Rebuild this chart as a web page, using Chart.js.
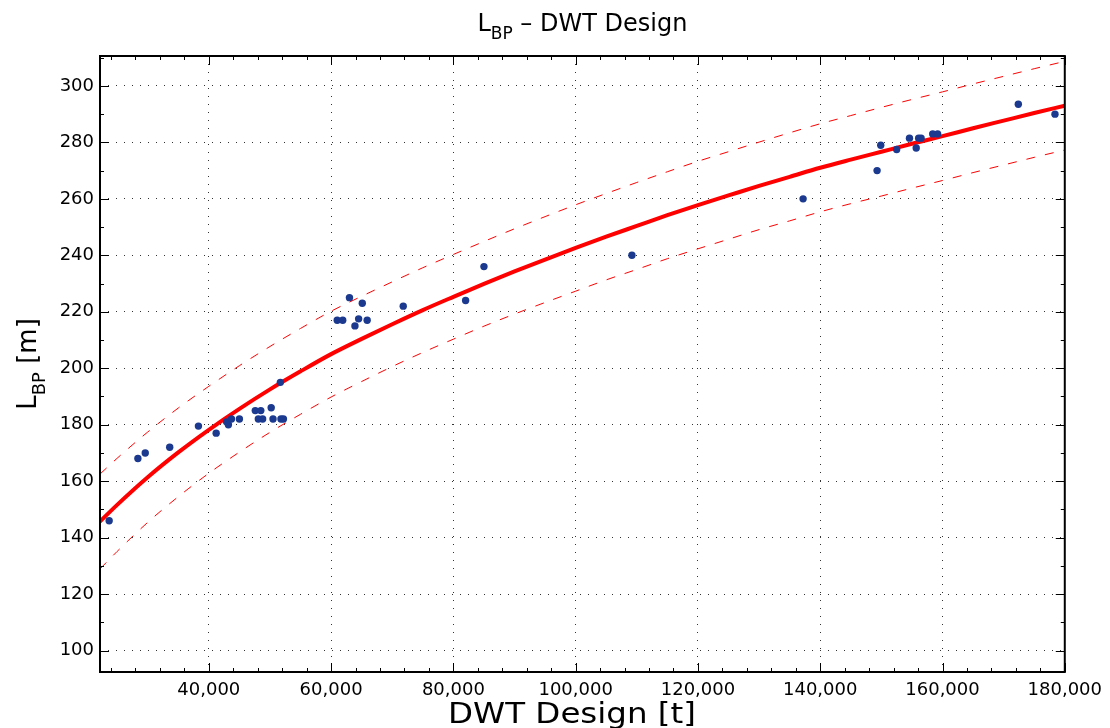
<!DOCTYPE html>
<html><head><meta charset="utf-8">
<script src="https://cdn.jsdelivr.net/npm/chart.js@4.4.1/dist/chart.umd.min.js"></script>
<style>html,body{margin:0;padding:0;background:#fff;}#wrap{width:1110px;height:728px;position:relative;}</style>
</head><body><div id="wrap"><canvas id="c" width="1110" height="728"></canvas></div>
<script>
// ---- data ----
const fitDWT = [22200,25000,30000,35000,40000,45000,50000,55000,60000,65000,70000,75000,80000,85000,90000,95000,100000,105000,110000,115000,120000,125000,130000,135000,140000,145000,150000,155000,160000,165000,170000,175000,180000];
const fitLBP = [145.7,151.6,161.4,170.2,178.2,185.6,192.5,198.9,205.0,210.4,215.6,220.6,225.3,229.9,234.3,238.5,242.6,246.6,250.4,254.2,257.8,261.2,264.6,267.8,271.0,273.9,276.7,279.5,282.2,285.0,287.7,290.4,293.0];
const upperLBP = [162.5,168.1,177.4,185.9,193.6,200.9,207.7,214.1,220.2,225.5,230.6,235.6,240.3,244.9,249.4,253.7,257.9,261.9,265.8,269.6,273.3,276.7,280.1,283.4,286.6,289.5,292.4,295.2,297.9,300.7,303.4,306.1,308.7];
const lowerLBP = [128.9,135.1,145.4,154.5,162.8,170.3,177.3,183.7,189.8,195.3,200.6,205.6,210.3,214.9,219.2,223.3,227.3,231.3,235.0,238.8,242.3,245.7,249.1,252.2,255.4,258.3,261.0,263.8,266.5,269.3,272.0,274.7,277.3];
const shipDWT = [23700,28400,29600,33600,38300,41200,42900,43200,43700,45000,47600,48500,48100,48800,50200,50500,51800,52200,51700,61000,61900,63000,63900,64500,65100,65900,71800,82000,85000,109200,137200,149300,149900,152500,154600,155700,156100,156500,158400,159200,172400,178400];
const shipLBP = [146,168,170,172,179.5,177,181,180,182,182,185,185,182,182,186,182,182,182,195,217,217,225,215,217.5,223,217,222,224,236,240,260,270,279,277.5,281.5,278,281.5,281.5,283,283,293.5,290];
const xTickValues = [40000,60000,80000,100000,120000,140000,160000,180000];
const yTickValues = [100,120,140,160,180,200,220,240,260,280,300];
const xRange = [22200, 180000];
const yRange = [92.4, 310.6];
const xMinorStep = 4000, yMinorStep = 10;

const pts = (xs, ys) => xs.map((x, i) => ({x: x, y: ys[i]}));
const FONT = '"DejaVu Sans", "Liberation Sans", Arial, sans-serif';

function drawParts(ctx, parts, cx, baseY) {
  let total = 0;
  parts.forEach(p => { ctx.font = p.size + 'px ' + FONT; p.w = ctx.measureText(p.t).width; total += p.w; });
  let x = cx - total / 2;
  ctx.textAlign = 'left'; ctx.textBaseline = 'alphabetic'; ctx.fillStyle = '#000';
  parts.forEach(p => { ctx.font = p.size + 'px ' + FONT; ctx.fillText(p.t, x, baseY + (p.dy || 0)); x += p.w; });
}

const framePlugin = {
  id: 'frame',
  afterDatasetsDraw(chart) {
    const ctx = chart.ctx, a = chart.chartArea, xs = chart.scales.x, ys = chart.scales.y;
    ctx.save();
    ctx.strokeStyle = '#000'; ctx.lineWidth = 1;
    ctx.beginPath();
    const major = 9, minor = 4;
    for (let v = Math.ceil(xRange[0] / xMinorStep) * xMinorStep; v <= xRange[1]; v += xMinorStep) {
      const px = Math.round(xs.getPixelForValue(v)) + 0.5;
      const len = xTickValues.includes(v) ? major : minor;
      ctx.moveTo(px, a.bottom); ctx.lineTo(px, a.bottom - len);
      ctx.moveTo(px, a.top); ctx.lineTo(px, a.top + len);
    }
    for (let v = Math.ceil(yRange[0] / yMinorStep) * yMinorStep; v <= yRange[1]; v += yMinorStep) {
      const py = Math.round(ys.getPixelForValue(v)) + 0.5;
      const len = yTickValues.includes(v) ? major : minor;
      ctx.moveTo(a.left, py); ctx.lineTo(a.left + len, py);
      ctx.moveTo(a.right, py); ctx.lineTo(a.right - len, py);
    }
    ctx.stroke();
    ctx.lineWidth = 2;
    ctx.strokeRect(a.left, a.top, a.right - a.left, a.bottom - a.top);
    ctx.restore();
  },
  afterDraw(chart) {
    const ctx = chart.ctx, a = chart.chartArea;
    ctx.save();
    drawParts(ctx, [{t: 'L', size: 24}, {t: 'BP', size: 17, dy: 8}, {t: ' \u2013 DWT Design', size: 24}], (a.left + a.right) / 2, 31);
    ctx.save();
    ctx.translate(572, 723);
    ctx.scale(1.16, 1);
    drawParts(ctx, [{t: 'DWT Design [t]', size: 28}], 0, 0);
    ctx.restore();
    ctx.translate(36, (a.top + a.bottom) / 2);
    ctx.rotate(-Math.PI / 2);
    drawParts(ctx, [{t: 'L', size: 26}, {t: 'BP', size: 18, dy: 9}, {t: ' [m]', size: 26}], 0, 0);
    ctx.restore();
  }
};

new Chart(document.getElementById('c'), {
  type: 'scatter',
  data: {
    datasets: [
      {label: 'Ships', data: pts(shipDWT, shipLBP), pointRadius: 3.7, pointBackgroundColor: '#1b3a8f', pointBorderWidth: 0, showLine: false, order: 0},
      {label: 'Fit', data: pts(fitDWT, fitLBP), showLine: true, borderColor: '#ff0000', borderWidth: 4, pointRadius: 0, cubicInterpolationMode: 'monotone', order: 1},
      {label: 'Upper', data: pts(fitDWT, upperLBP), showLine: true, borderColor: '#ff0000', borderWidth: 1, borderDash: [9, 10], pointRadius: 0, cubicInterpolationMode: 'monotone', order: 2},
      {label: 'Lower', data: pts(fitDWT, lowerLBP), showLine: true, borderColor: '#ff0000', borderWidth: 1, borderDash: [9, 10], pointRadius: 0, cubicInterpolationMode: 'monotone', order: 2}
    ]
  },
  options: {
    responsive: false, animation: false, devicePixelRatio: 1,
    layout: {padding: {left: 0, right: 44, top: 56, bottom: 0}},
    plugins: {legend: {display: false}, tooltip: {enabled: false}, title: {display: false}},
    scales: {
      x: {
        type: 'linear', min: xRange[0], max: xRange[1],
        afterFit(s) { s.height = 56; },
        afterBuildTicks(s) { s.ticks = xTickValues.map(v => ({value: v})); },
        ticks: {stepSize: 20000, includeBounds: false, color: '#000', padding: 8, maxRotation: 0, autoSkip: false,
          font: {family: FONT, size: 18}, callback: v => v.toLocaleString('en-US')},
        grid: {color: '#333', lineWidth: 1, drawTicks: false},
        border: {display: false, dash: [1, 7]}
      },
      y: {
        type: 'linear', min: yRange[0], max: yRange[1],
        afterFit(s) { s.width = 100; },
        afterBuildTicks(s) { s.ticks = yTickValues.map(v => ({value: v})); },
        ticks: {stepSize: 20, includeBounds: false, color: '#000', padding: 6, autoSkip: false,
          font: {family: FONT, size: 18}},
        grid: {color: '#333', lineWidth: 1, drawTicks: false},
        border: {display: false, dash: [1, 7]}
      }
    }
  },
  plugins: [framePlugin]
});
</script></body></html>
